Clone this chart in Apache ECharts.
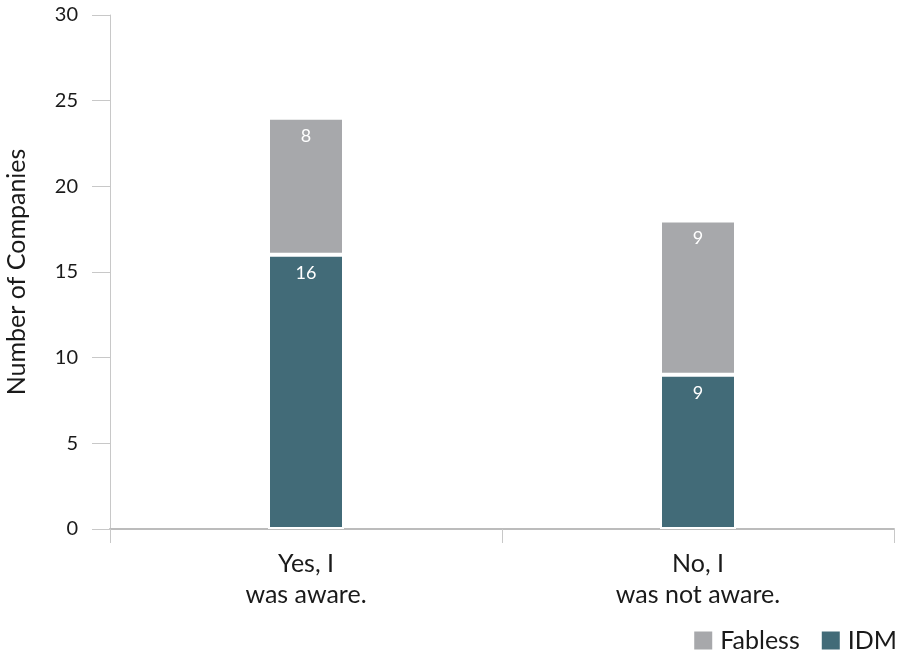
<!DOCTYPE html>
<html>
<head>
<meta charset="utf-8">
<script src="https://cdn.jsdelivr.net/npm/echarts@6/dist/echarts.min.js"></script>
<style>html,body{margin:0;padding:0;background:#fff;}#c{width:897px;height:651px;}</style>
</head>
<body>
<div id="c"></div>
<script>
const categories = ["Yes, I\nwas aware.", "No, I\nwas not aware."];
const idmValues = [16, 9];
const fablessValues = [8, 9];
const yTicks = { min: 0, max: 30, interval: 5 };

const FONT = "Lato";
const chart = echarts.init(document.getElementById('c'));
chart.setOption({
  animation: false,
  textStyle: { fontFamily: FONT },
  grid: { left: 110, right: 3, top: 15, bottom: 122, outerBoundsMode: 'none', containLabel: false },
  legend: {
    data: ['Fabless', 'IDM'],
    right: 0, top: 628, padding: 0,
    icon: 'rect', itemWidth: 20, itemHeight: 20, itemGap: 20,
    textStyle: { fontFamily: FONT, fontSize: 25, color: '#1a1a1a', padding: [0, 0, 0, 2] }
  },
  xAxis: {
    type: 'category',
    data: categories,
    axisLine: { lineStyle: { color: '#bcbcbc', width: 2 } },
    axisTick: { show: true, length: 14, lineStyle: { color: '#c8c8c8', width: 1 } },
    axisLabel: { fontFamily: FONT, fontSize: 25, color: '#1a1a1a', lineHeight: 31, margin: 19 }
  },
  yAxis: {
    type: 'value',
    min: yTicks.min, max: yTicks.max, interval: yTicks.interval,
    name: 'Number of Companies',
    nameLocation: 'middle', nameGap: 81, nameRotate: 90,
    nameTextStyle: { fontFamily: FONT, fontSize: 25, color: '#1a1a1a' },
    axisLine: { show: true, lineStyle: { color: '#c8c8c8', width: 1 } },
    axisTick: { show: true, length: 18, lineStyle: { color: '#c8c8c8', width: 1 } },
    splitLine: { show: false },
    axisLabel: { fontFamily: FONT, fontSize: 20, color: '#1a1a1a', margin: 32 }
  },
  series: [
    {
      name: 'IDM', type: 'bar', stack: 'total', data: idmValues, barWidth: 76,
      itemStyle: { color: '#426b78', borderColor: '#ffffff', borderWidth: 2 },
      label: { show: true, position: 'insideTop', distance: 9, color: '#ffffff', fontFamily: FONT, fontSize: 18 }
    },
    {
      name: 'Fabless', type: 'bar', stack: 'total', data: fablessValues, barWidth: 76,
      itemStyle: { color: '#a7a8ab', borderColor: '#ffffff', borderWidth: 2 },
      label: { show: true, position: 'insideTop', distance: 9, color: '#ffffff', fontFamily: FONT, fontSize: 18 }
    }
  ]
});
</script>
</body>
</html>
